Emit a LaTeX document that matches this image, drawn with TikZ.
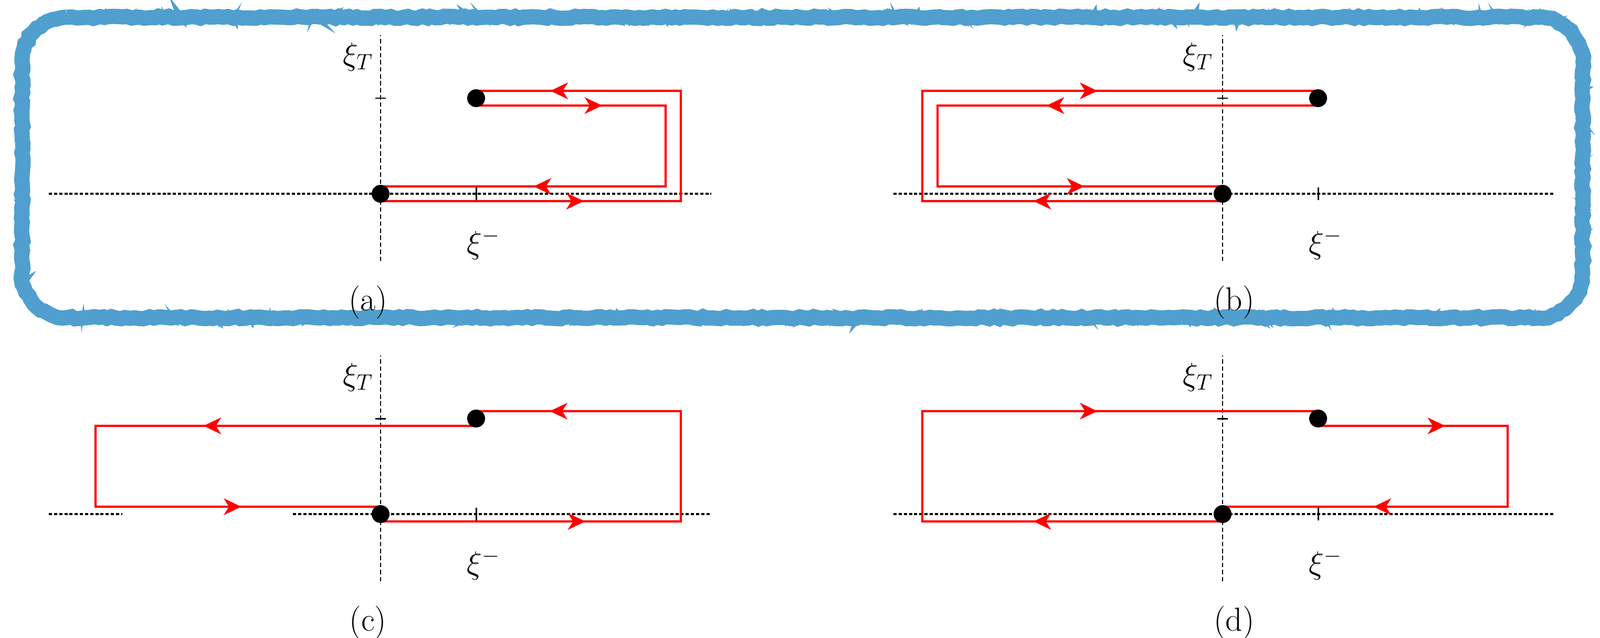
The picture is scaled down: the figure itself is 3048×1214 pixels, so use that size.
\documentclass[tikz,border=0pt]{standalone}
\usepackage{tikz}
\usetikzlibrary{arrows.meta,decorations.markings,decorations.pathmorphing,backgrounds}
\definecolor{framecol}{RGB}{80,159,207}

\begin{document}
\begin{tikzpicture}[x=0.01cm,y=0.01cm,>={Stealth[length=9.5pt,width=9pt,inset=2.8pt]},
  dot node/.style={circle,fill=black,inner sep=0pt,minimum size=0.34cm},
  h axis/.style={line width=1.15pt,dash pattern=on 1.7pt off 1.1pt},
  v axis/.style={line width=0.8pt,dash pattern=on 2.4pt off 1.4pt},
  tick mark/.style={line width=0.85pt},
  red line/.style={draw=red,line width=1.15pt},
  flow/.style 2 args={postaction={decorate,decoration={markings,
      mark=at position #1 with {\arrow{>}},
      mark=at position #2 with {\arrow{>}}}}},
  lab/.style={font=\fontsize{18}{22}\selectfont}]

  \useasboundingbox (0,0) rectangle (3048,1214);

  % rough frame round (a) and (b)
  \begin{scope}[on background layer]
    \foreach \amp/\wd in {0.6pt/0.29cm,2pt/0.12cm,3.4pt/0.05cm}
      \draw[framecol,line width=\wd,decorate,
        decoration={random steps,segment length=2.5pt,amplitude=\amp}]
        (127,1181) -- (2930,1181) arc[start angle=90,end angle=0,radius=85]
        -- (3015,694) arc[start angle=0,end angle=-90,radius=85]
        -- (127,609) arc[start angle=270,end angle=180,radius=85]
        -- (42,1096) arc[start angle=180,end angle=90,radius=85] -- cycle;
  \end{scope}

  % (a)
  \begin{scope}[shift={(725,845)}]
    \node[dot node] (oa) at (0,0) {};
    \node[dot node] (pa) at (182,182) {};
    \coordinate (ra) at (572,196);
    \coordinate (sa) at (543,14);
    \node[lab] (ta) at (-43,261) {$\xi_T$};
    \node[lab] (ma) at (196,-96) {$\xi^-$};
    \node[lab] (ca) at (-24,-207) {(a)};
    \begin{scope}[on background layer]
      \draw[h axis] (-632,0) -- (630,0);
      \draw[v axis] (0,-128) -- (0,302);
      \draw[tick mark] (182,-12) -- (182,12);
      \draw[tick mark] (-10,182) -- (10,182);
      \draw[red line,flow={3.87cm}{10.3cm}] ([yshift=-1.4mm]oa.center) -| (ra) -- ([yshift=1.4mm]pa.center);
      \draw[red line,flow={2.4cm}{7.66cm}] ([yshift=-1.4mm]pa.center) -| (sa) -- ([yshift=1.4mm]oa.center);
    \end{scope}
  \end{scope}

  % (b)
  \begin{scope}[shift={(2329,845)}]
    \node[dot node] (ob) at (0,0) {};
    \node[dot node] (pb) at (182,182) {};
    \coordinate (rb) at (-572,196);
    \coordinate (sb) at (-543,14);
    \node[lab] (tb) at (-47,261) {$\xi_T$};
    \node[lab] (mb) at (196,-96) {$\xi^-$};
    \node[lab] (cb) at (22,-207) {(b)};
    \begin{scope}[on background layer]
      \draw[h axis] (-627,0) -- (630,0);
      \draw[v axis] (0,-128) -- (0,302);
      \draw[tick mark] (182,-12) -- (182,12);
      \draw[tick mark] (-10,182) -- (10,182);
      \draw[red line,flow={3.6cm}{11.15cm}] ([yshift=-1.4mm]ob.center) -| (rb) -- ([yshift=1.4mm]pb.center);
      \draw[red line,flow={5.17cm}{11.58cm}] ([yshift=-1.4mm]pb.center) -| (sb) -- ([yshift=1.4mm]ob.center);
    \end{scope}
  \end{scope}

  % (c)
  \begin{scope}[shift={(725,235)}]
    \node[dot node] (oc) at (0,0) {};
    \node[dot node] (pc) at (182,182) {};
    \coordinate (rc) at (572,196);
    \coordinate (sc) at (-543,14);
    \node[lab] (tc) at (-43,261) {$\xi_T$};
    \node[lab] (mc) at (196,-96) {$\xi^-$};
    \node[lab] (cc) at (-24,-207) {(c)};
    \begin{scope}[on background layer]
      \draw[h axis] (-632,0) -- (-492,0);
      \draw[h axis] (-167,0) -- (630,0);
      \draw[v axis] (0,-128) -- (0,302);
      \draw[tick mark] (182,-12) -- (182,12);
      \draw[tick mark] (-10,182) -- (10,182);
      \draw[red line,flow={3.9cm}{10.31cm}] ([yshift=-1.4mm]oc.center) -| (rc) -- ([yshift=1.4mm]pc.center);
      \draw[red line,flow={5.19cm}{11.56cm}] ([yshift=-1.4mm]pc.center) -| (sc) -- ([yshift=1.4mm]oc.center);
    \end{scope}
  \end{scope}

  % (d)
  \begin{scope}[shift={(2329,235)}]
    \node[dot node] (od) at (0,0) {};
    \node[dot node] (pd) at (182,182) {};
    \coordinate (rd) at (-572,196);
    \coordinate (sd) at (543,14);
    \node[lab] (td) at (-47,261) {$\xi_T$};
    \node[lab] (md) at (196,-96) {$\xi^-$};
    \node[lab] (cd) at (22,-207) {(d)};
    \begin{scope}[on background layer]
      \draw[h axis] (-627,0) -- (630,0);
      \draw[v axis] (0,-128) -- (0,302);
      \draw[tick mark] (182,-12) -- (182,12);
      \draw[tick mark] (-10,182) -- (10,182);
      \draw[red line,flow={3.6cm}{11.15cm}] ([yshift=-1.4mm]od.center) -| (rd) -- ([yshift=1.4mm]pd.center);
      \draw[red line,flow={2.42cm}{7.7cm}] ([yshift=-1.4mm]pd.center) -| (sd) -- ([yshift=1.4mm]od.center);
    \end{scope}
  \end{scope}

\end{tikzpicture}
\end{document}
